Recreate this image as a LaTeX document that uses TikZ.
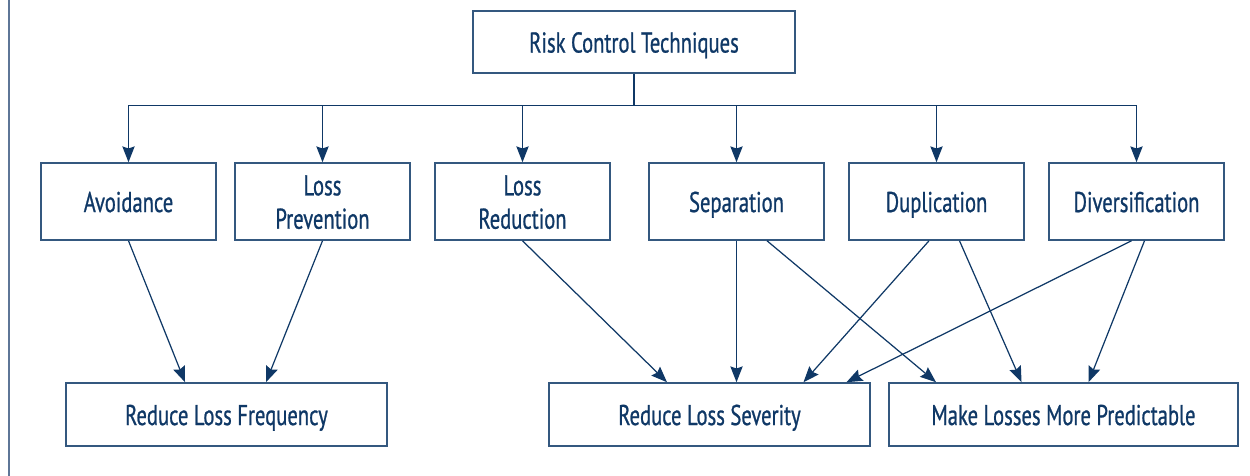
\documentclass[tikz,border=0pt]{standalone}
\usepackage{fontspec}
\setmainfont{PT Sans}[FakeStretch=0.72,FakeBold=0.8]
\usetikzlibrary{arrows.meta}

\definecolor{rcNavy}{HTML}{0F3866}
\definecolor{rcEdge}{HTML}{34587F}
\definecolor{rcFrame}{HTML}{5E7697}

\begin{document}
\begin{tikzpicture}[x=0.02cm,y=-0.02cm,
    font=\fontsize{16.3}{19}\selectfont,
    box/.style={draw=rcEdge,line width=0.9pt,text=rcNavy,align=center,
      inner sep=0pt,text height=12pt,text depth=0pt,
      minimum height=1.54cm,minimum width=3.5cm},
    twobox/.style={box,text height=31pt},
    topbox/.style={box,minimum height=1.24cm,minimum width=6.44cm},
    goalbox/.style={box,minimum height=1.26cm,minimum width=6.42cm},
    link/.style={draw=rcNavy,line width=0.7pt,
      -{Stealth[length=9pt,width=7pt,inset=1.2pt]}}]

  \useasboundingbox (0,0) rectangle (1250,476);

  % Frame line
  \draw[rcFrame,line width=1.3pt] (9,0) -- (9,476);

  % Top
  \node[topbox] (rct) at (634,42) {Risk Control Techniques};

  % Techniques
  \node[box]    (avoid) at (128.5,201.5) {Avoidance};
  \node[twobox] (lprev) at (322.5,201.5) {Loss\\Prevention};
  \node[twobox] (lred)  at (522.5,201.5) {Loss\\Reduction};
  \node[box]    (sep)   at (736.5,201.5) {Separation};
  \node[box]    (dup)   at (936.5,201.5) {Duplication};
  \node[box]    (div)   at (1136.5,201.5) {Diversification};

  % Goals
  \node[goalbox] (rlf) at (226.5,414.5) {Reduce Loss Frequency};
  \node[goalbox] (rls) at (709.5,414.5) {Reduce Loss Severity};
  \node[goalbox,minimum width=6.98cm] (mlmp) at (1063.5,414.5)
    {Make Losses More Predictable};

  % Bus
  \coordinate (bus) at (632,105.5);
  \draw[rcNavy,line width=0.7pt] (rct.south) -- (rct.south |- bus);
  \draw[rcNavy,line width=0.7pt] (avoid.north |- bus) -- (div.north |- bus);
  \foreach \n in {avoid,lprev,lred,sep,dup,div}
    \draw[link] (\n.north |- bus) -- (\n.north);

  % Technique to goal
  \draw[link] (avoid.south) -- ([xshift=-0.83cm]rlf.north);
  \draw[link] (lprev.south) -- ([xshift=0.79cm]rlf.north);
  \draw[link] (lred.south) -- ([xshift=-0.85cm]rls.north);
  \draw[link] (sep.south) -- (sep.south |- rls.north);
  \draw[link] ([xshift=0.61cm]sep.south) -- ([xshift=-2.55cm]mlmp.north);
  \draw[link] ([xshift=-0.15cm]dup.south) -- ([xshift=1.88cm]rls.north);
  \draw[link] ([xshift=0.46cm]dup.south) -- ([xshift=-0.84cm]mlmp.north);
  \draw[link] ([xshift=-0.1cm]div.south) -- ([xshift=2.74cm]rls.north);
  \draw[link] ([xshift=0.16cm]div.south) -- ([xshift=0.5cm]mlmp.north);

\end{tikzpicture}
\end{document}
